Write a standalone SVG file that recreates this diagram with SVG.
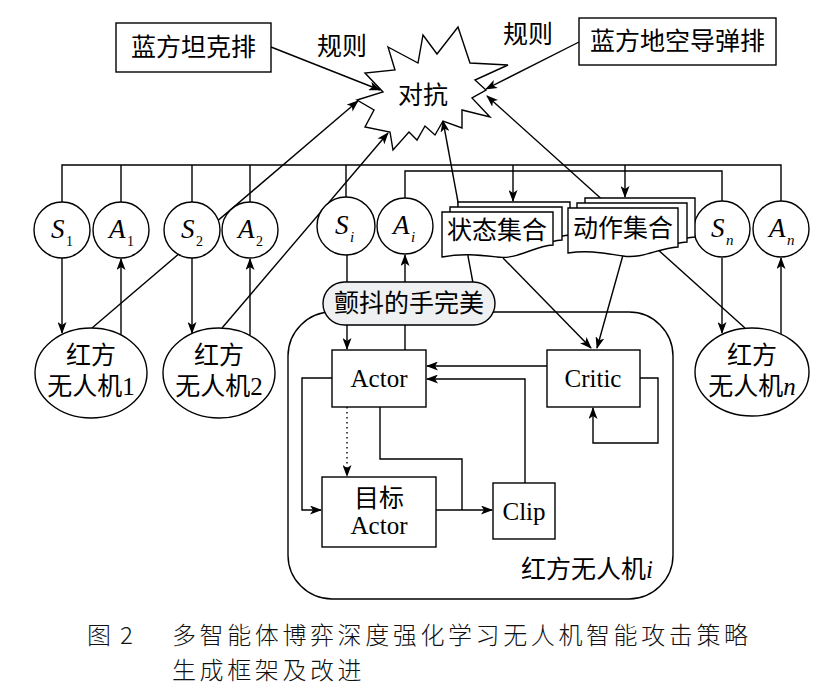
<svg xmlns="http://www.w3.org/2000/svg" width="831" height="689" viewBox="0 0 831 689">
<style>
.s{fill:none;stroke:#000;stroke-width:1.4}
.n{fill:#fff;stroke:#000;stroke-width:1.4}
.a{marker-end:url(#ah)}
.t{font-family:"Liberation Serif","Noto Sans CJK SC",serif;font-size:25px;fill:#000;dominant-baseline:central;text-anchor:middle}
.v{font-family:"Liberation Serif",serif;font-style:italic;font-size:27px;fill:#000}
.sb{font-family:"Liberation Serif",serif;font-size:14px;fill:#000}
.si{font-family:"Liberation Serif",serif;font-style:italic;font-size:15px;fill:#000}
.cap{font-family:"Noto Sans CJK SC",sans-serif;font-size:24px;fill:#111;dominant-baseline:central;font-weight:300}
</style>
<defs>
<marker id="ah" viewBox="0 0 12 9" refX="11" refY="4.5" markerWidth="12" markerHeight="9" markerUnits="userSpaceOnUse" orient="auto"><path d="M0,0 L12,4.5 L0,9 L3,4.5 z" fill="#000"/></marker>
</defs>

<g id="uav-i-container"><rect x="288" y="312" width="385" height="287" rx="44" class="n"/>
<text class="t" x="653" y="569" style="text-anchor:end">红方无人机<tspan font-style="italic">i</tspan></text></g>

<g id="connectors">
<path class="s" d="M62,202 V165 H781 V201"/>
<path class="s" d="M121,202 V165 M192,202 V165 M250,202 V165 M346,197 V165"/>
<path class="s" d="M405,198 V171 H722 V201"/>
<path class="s a" d="M513,165 V201"/>
<path class="s a" d="M625,165 V197"/>
<path class="s a" d="M62,258 V333"/>
<path class="s a" d="M121,335 V259"/>
<path class="s a" d="M192,258 V333"/>
<path class="s a" d="M250,335 V259"/>
<path class="s a" d="M722,258 V333"/>
<path class="s a" d="M781,334 V258"/>
<path class="s a" d="M347,255 V349"/>
<path class="s a" d="M405,350 V255"/>
<path class="s a" d="M271,47 L380,90"/>
<path class="s a" d="M579,42 L486,89"/>
<path class="s a" d="M92,328 L358,101"/>
<path class="s a" d="M222,328 L388,133"/>
<path class="s a" d="M473,283 L443,121"/>
<path class="s a" d="M745,328 L487,96"/>
<path class="s a" d="M503,258 L591,348"/>
<path class="s a" d="M623,255 L597,348"/>
<path class="s a" d="M547,366 H427"/>
<path class="s a" d="M525,483 V379 H427"/>
<path class="s a" d="M640,378 H658 V443 H593 V408"/>
<path class="s a" d="M332,378 H302 V510 H321"/>
<path class="s" d="M380,407 V459 H462 V510"/>
<path class="s a" d="M436,510 H492"/>
<path class="s a" d="M347,407 V476" stroke-dasharray="1.5,3.5"/>
</g>

<g id="blue-tank"><rect x="116" y="23" width="155" height="49" class="n"/><text class="t" x="193.5" y="47.5" font-size="26">蓝方坦克排</text></g>
<g id="blue-missile"><rect x="579" y="18" width="197" height="47" class="n"/><text class="t" x="677.5" y="41.5" font-size="26">蓝方地空导弹排</text></g>
<g id="rule-labels"><text class="t" x="342" y="46">规则</text><text class="t" x="528" y="34">规则</text></g>

<g id="confront">
<polygon class="n" points="388,47 418,63 423,35 437,54 458,27 470,63 508,65 475,80 486,90 472,98 490,117 462,110 462,128 443,121 435,135 425,126 417,140 409,132 393,150 390,132 365,127 374,110 357,100 383,92 365,73 395,70"/>
<text class="t" x="423" y="95">对抗</text>
</g>

<g id="S1"><circle cx="62" cy="230" r="28" class="n"/><text class="v" x="51" y="238">S</text><text class="sb" x="66" y="246">1</text></g>
<g id="A1"><circle cx="121" cy="230" r="28" class="n"/><text class="v" x="109" y="238">A</text><text class="sb" x="127" y="246">1</text></g>
<g id="S2"><circle cx="192" cy="230" r="28" class="n"/><text class="v" x="181" y="238">S</text><text class="sb" x="196" y="246">2</text></g>
<g id="A2"><circle cx="250" cy="230" r="28" class="n"/><text class="v" x="238" y="238">A</text><text class="sb" x="256" y="246">2</text></g>
<g id="Si"><circle cx="346" cy="226" r="29" class="n"/><text class="v" x="335" y="234">S</text><text class="si" x="350" y="242">i</text></g>
<g id="Ai"><circle cx="405" cy="226" r="28" class="n"/><text class="v" x="393" y="234">A</text><text class="si" x="411" y="242">i</text></g>
<g id="Sn"><circle cx="722" cy="229" r="28" class="n"/><text class="v" x="711" y="237">S</text><text class="si" x="726" y="245">n</text></g>
<g id="An"><circle cx="781" cy="229" r="28" class="n"/><text class="v" x="769" y="237">A</text><text class="si" x="787" y="245">n</text></g>

<g id="state-set">
<path class="n" d="M458,202 H570 V235 C550,236 535,250 513,247 C495,245 478,243 458,247 Z"/>
<path class="n" d="M450,207 H562 V240 C542,241 527,255 505,252 C487,250 470,248 450,252 Z"/>
<path class="n" d="M442,212 H553 V245 C533,246 518,260 497,257 C479,255 462,253 442,257 Z"/>
<text class="t" x="497" y="230">状态集合</text>
</g>
<g id="action-set">
<path class="n" d="M585,198 H695 V237 C675,238 660,249 640,246 C620,243 605,240 585,243 Z"/>
<path class="n" d="M577,203 H687 V242 C667,243 652,254 632,251 C612,248 597,245 577,248 Z"/>
<path class="n" d="M568,208 H678 V247 C658,248 643,259 623,256 C603,253 588,250 568,253 Z"/>
<text class="t" x="623" y="228">动作集合</text>
</g>

<g id="trembling-hand"><rect x="323" y="282" width="172" height="43" rx="21.5" fill="#eef0f2" stroke="#000" stroke-width="1.4"/><text class="t" x="409" y="303">颤抖的手完美</text></g>

<g id="actor"><rect x="332" y="350" width="94" height="57" class="n"/><text class="t" x="379" y="378" font-size="24">Actor</text></g>
<g id="critic"><rect x="547" y="350" width="93" height="57" class="n"/><text class="t" x="593" y="378" font-size="24">Critic</text></g>
<g id="target-actor"><rect x="322" y="477" width="114" height="70" class="n"/><text class="t" x="379" y="498">目标</text><text class="t" x="379" y="525" font-size="24">Actor</text></g>
<g id="clip"><rect x="493" y="483" width="62" height="56" class="n"/><text class="t" x="524" y="511" font-size="24">Clip</text></g>

<g id="uav1"><ellipse cx="91" cy="373" rx="56" ry="45" class="n"/><text class="t" x="91" y="355" font-size="24">红方</text><text class="t" x="91" y="386" font-size="24">无人机1</text></g>
<g id="uav2"><ellipse cx="219" cy="373" rx="56" ry="45" class="n"/><text class="t" x="219" y="355" font-size="24">红方</text><text class="t" x="219" y="386" font-size="24">无人机2</text></g>
<g id="uavn"><ellipse cx="752" cy="372" rx="57" ry="44" class="n"/><text class="t" x="752" y="355" font-size="24">红方</text><text class="t" x="752" y="386" font-size="24">无人机<tspan font-style="italic">n</tspan></text></g>

<g id="caption">
<text class="cap" x="87" y="633">图</text>
<text class="cap" x="120" y="633">2</text>
<text class="cap" x="172" y="633" letter-spacing="3.6">多智能体博弈深度强化学习无人机智能攻击策略</text>
<text class="cap" x="172" y="668" letter-spacing="3.6">生成框架及改进</text>
</g>
</svg>
